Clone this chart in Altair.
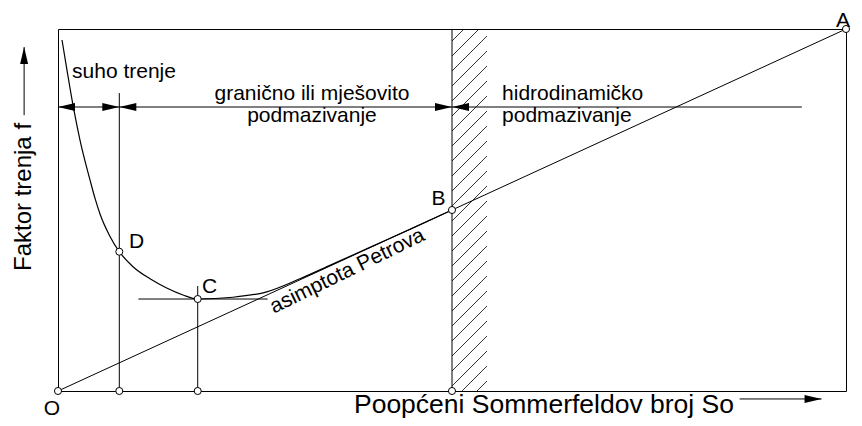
import altair as alt
import pandas as pd

# ---- data (So and f both on a 0-100 scale) ----
curve_so = [0.51, 1.15, 1.94, 2.79, 4.06, 4.70, 5.33, 6.60, 7.78, 9.52, 11.68, 13.79, 15.86, 17.73,
            22.2, 26.5, 30.7, 34.5, 40.0, 45.0, 50.0]
curve_f = [96.96, 88.5, 78.54, 69.3, 58.3, 53.2, 48.9, 42.7, 38.48, 34.34, 31.0, 28.45, 26.52, 25.41,
           25.9, 27.4, 31.0, 34.7, 40.1, 45.0, 50.0]

point_names = ["O", "D", "C", "B", "A", "", "", ""]
point_so = [0.0, 7.78, 17.73, 50.0, 100.0, 7.78, 17.73, 50.0]
point_f = [0.0, 38.48, 25.41, 50.0, 100.0, 0.0, 0.0, 0.0]

# straight segments: asymptote, verticals, tangent, dimension line, axis arrows
seg_x1 = [0.0, 7.78, 17.73, 10.2, 50.0, 0.0, -4.3, 86.5]
seg_y1 = [0.0, 0.0, 0.0, 25.41, 0.0, 78.45, 76.2, -2.2]
seg_x2 = [100.0, 7.78, 17.73, 26.6, 50.0, 94.4, -4.3, 96.9]
seg_y2 = [100.0, 82.3, 29.0, 25.41, 100.0, 78.45, 95.0, -2.2]

# arrow heads (tip positions)
right_x = [7.78, 50.0, 96.9]
right_y = [78.45, 78.45, -2.2]
left_x = [0.0, 7.78, 50.0]
left_y = [78.45, 78.45, 78.45]
up_x = [-4.3]
up_y = [95.0]

# hatched zone of transition
band_left, band_right = 50.0, 54.44

# texts
lbl_left_text = ["suho trenje", "hidrodinamičko", "podmazivanje", "D", "C", "B", "A"]
lbl_left_x = [1.78, 56.35, 56.35, 9.0, 18.27, 47.4, 98.73]
lbl_left_y = [86.46, 80.39, 74.31, 39.5, 27.07, 51.38, 100.55]
lbl_center_text = ["granično ili mješovito", "podmazivanje", "O"]
lbl_center_x = [32.23, 32.23, -0.76]
lbl_center_y = [80.39, 74.31, -6.63]

W, H = 788, 362
FONT = "Liberation Sans"

# hatch segments (45 degree, in pixel units then converted to data units)
sx, sy = W / 100.0, H / 100.0
bw = (band_right - band_left) * sx
hx1, hy1, hx2, hy2 = [], [], [], []
t = 12.0
while t - bw < H:
    ax, ay = 0.0, t
    bx, by = bw, t - bw
    if ay > H:
        ax, ay = ay - H, H
    if by < 0:
        bx, by = t, 0.0
    if ax < bx:
        hx1.append(band_left + ax / sx)
        hy1.append(100 - ay / sy)
        hx2.append(band_left + bx / sx)
        hy2.append(100 - by / sy)
    t += 15.0

xs = alt.Scale(domain=[0, 100], nice=False, zero=False)
ys = alt.Scale(domain=[0, 100], nice=False, zero=False)

def X(f):
    return alt.X(f, type="quantitative", scale=xs, axis=None)

def Y(f):
    return alt.Y(f, type="quantitative", scale=ys, axis=None)

seg_df = pd.DataFrame({"x": seg_x1, "y": seg_y1, "x2": seg_x2, "y2": seg_y2})
hatch_df = pd.DataFrame({"x": hx1, "y": hy1, "x2": hx2, "y2": hy2})
curve_df = pd.DataFrame({"so": curve_so, "f": curve_f})
pts_df = pd.DataFrame({"n": point_names, "so": point_so, "f": point_f})

hatch = alt.Chart(hatch_df).mark_rule(color="black", strokeWidth=0.8).encode(
    x=X("x"), y=Y("y"), x2="x2", y2="y2")
segs = alt.Chart(seg_df).mark_rule(color="black", strokeWidth=1).encode(
    x=X("x"), y=Y("y"), x2="x2", y2="y2")
curve = alt.Chart(curve_df).mark_line(color="black", strokeWidth=1.2, interpolate="monotone").encode(
    x=X("so"), y=Y("f"), order="so:Q")

R = "M0,0L-1,-0.235L-1,0.235Z"
L = "M0,0L1,-0.235L1,0.235Z"
U = "M0,0L-0.235,1L0.235,1Z"

def heads(xv, yv, shape):
    return alt.Chart(pd.DataFrame({"x": xv, "y": yv})).mark_point(
        shape=shape, filled=True, color="black", size=1156, opacity=1, strokeWidth=0
    ).encode(x=X("x"), y=Y("y"))

circles = alt.Chart(pts_df).mark_point(
    shape="circle", filled=True, fill="white", stroke="black", strokeWidth=1, size=50, opacity=1
).encode(x=X("so"), y=Y("f"))

def texts(txt, xv, yv, align, size=21, angle=0):
    return alt.Chart(pd.DataFrame({"t": txt, "x": xv, "y": yv})).mark_text(
        align=align, baseline="alphabetic", font=FONT, fontSize=size, color="black", angle=angle
    ).encode(x=X("x"), y=Y("y"), text="t:N")

t_left = texts(lbl_left_text, lbl_left_x, lbl_left_y, "left")
t_center = texts(lbl_center_text, lbl_center_x, lbl_center_y, "center")
t_asym = texts(["asimptota Petrova"], [37.06], [31.6], "center", 21, 334)
t_xtitle = texts(["Poopćeni Sommerfeldov broj So"], [37.56], [-5.94], "left", 26.5)
t_ytitle = texts(["Faktor trenja f"], [-3.43], [33.15], "left", 24, 270)

chart = alt.layer(
    hatch, segs, curve,
    heads(right_x, right_y, R), heads(left_x, left_y, L), heads(up_x, up_y, U),
    circles, t_left, t_center, t_asym, t_xtitle, t_ytitle,
).properties(
    width=W, height=H,
    autosize=alt.AutoSizeParams(type="none"),
    padding={"left": 50, "top": 21, "right": 8, "bottom": 27},
    background="white",
).configure_view(stroke="black", strokeWidth=1)

chart.save("out.html", embed_options={"renderer": "svg", "actions": False})
